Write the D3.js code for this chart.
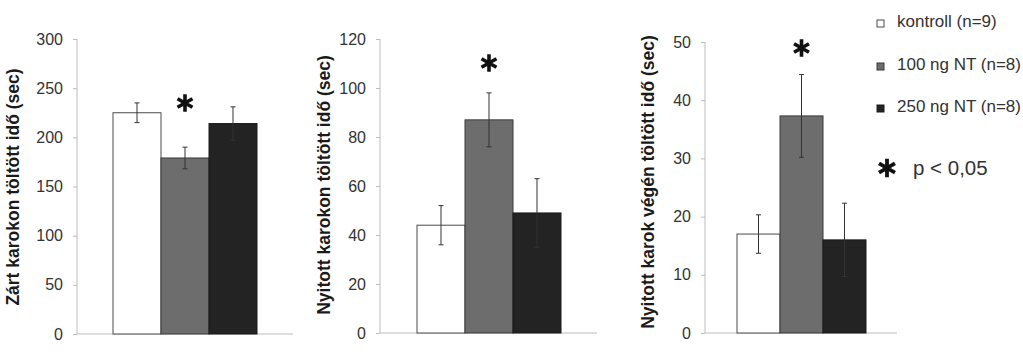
<!DOCTYPE html>
<html>
<head>
<meta charset="utf-8">
<script src="https://cdn.jsdelivr.net/npm/d3@7"></script>
<style>
  body { margin: 0; background: #fff; }
  svg { font-family: Arial, "Liberation Sans", sans-serif; }
</style>
</head>
<body>
<div id="chart"></div>
<script>
// groups (legend labels)
const groups = ["kontroll (n=9)", "100 ng NT (n=8)", "250 ng NT (n=8)"];
const fills = ["#ffffff", "#6d6d6d", "#232323"];
const strokes = ["#4a4a4a", "#3a3a3a", "#1a1a1a"];

// values (mean, SEM)
const closedMeans = [225, 179, 214];
const closedErr = [10, 11, 17];
const openMeans = [44, 87, 49];
const openErr = [8, 11, 14];
const endMeans = [17, 37.3, 16];
const endErr = [3.3, 7.1, 6.3];

const titles = [
    "Zárt karokon töltött idő (sec)",
    "Nyitott karokon töltött idő (sec)",
    "Nyitott karok végén töltött idő (sec)"
];
const yMax = [300, 120, 50];
const yStep = [50, 20, 10];
const sigGroup = 1; // group marked with *

// panel geometry (pixels)
const panels = [
    { means: closedMeans, err: closedErr, axisX: 77, top: 39, bottom: 334, xEnd: 293, bars: [113, 257], titleX: 19, titleY: 187, starY: 103 },
    { means: openMeans, err: openErr, axisX: 380, top: 39, bottom: 333, xEnd: 597, bars: [417, 561], titleX: 330, titleY: 185, starY: 63 },
    { means: endMeans, err: endErr, axisX: 705, top: 42, bottom: 333, xEnd: 897, bars: [737, 866], titleX: 654, titleY: 182, starY: 48 }
];

const svg = d3.select("#chart").append("svg")
    .attr("width", 1023)
    .attr("height", 363);

panels.forEach((p, i) => {
    const y = d3.scaleLinear().domain([0, yMax[i]]).range([p.bottom, p.top]);
    const x = d3.scaleBand().domain(groups).range(p.bars).padding(0);
    const g = svg.append("g");

    // y axis
    const axis = d3.axisLeft(y)
        .tickValues(d3.range(0, yMax[i] + 1, yStep[i]))
        .tickSize(4)
        .tickPadding(10);
    const ax = g.append("g")
        .attr("transform", `translate(${p.axisX},0)`)
        .call(axis);
    ax.select(".domain").attr("stroke", "#bdbdbd").attr("d", `M0,${p.top}V${p.bottom}`);
    ax.selectAll(".tick line").attr("stroke", "#bdbdbd");
    ax.selectAll(".tick text")
        .attr("fill", "#333")
        .style("font-size", "16px")
        .attr("font-family", null);

    // baseline
    g.append("line")
        .attr("x1", p.axisX).attr("x2", p.xEnd)
        .attr("y1", y(0)).attr("y2", y(0))
        .attr("stroke", "#bdbdbd");

    // bars
    g.selectAll(".bar")
        .data(groups)
        .enter().append("rect")
        .attr("class", "bar")
        .attr("x", d => x(d))
        .attr("y", (d, k) => y(p.means[k]))
        .attr("width", x.bandwidth())
        .attr("height", (d, k) => y(0) - y(p.means[k]))
        .attr("fill", (d, k) => fills[k])
        .attr("stroke", (d, k) => strokes[k])
        .attr("stroke-width", 1);

    // error bars
    const eb = g.selectAll(".err")
        .data(groups)
        .enter().append("g")
        .attr("class", "err")
        .attr("stroke", "#333")
        .attr("stroke-width", 1);
    eb.append("line")
        .attr("x1", d => x(d) + x.bandwidth() / 2)
        .attr("x2", d => x(d) + x.bandwidth() / 2)
        .attr("y1", (d, k) => y(p.means[k] + p.err[k]))
        .attr("y2", (d, k) => y(p.means[k] - p.err[k]));
    [1, -1].forEach(s => {
        eb.append("line")
            .attr("x1", d => x(d) + x.bandwidth() / 2 - 2.5)
            .attr("x2", d => x(d) + x.bandwidth() / 2 + 2.5)
            .attr("y1", (d, k) => y(p.means[k] + s * p.err[k]))
            .attr("y2", (d, k) => y(p.means[k] + s * p.err[k]));
    });

    // significance star
    g.append("path")
        .attr("d", d3.symbol(d3.symbolAsterisk, 210)())
        .attr("transform", `translate(${x(groups[sigGroup]) + x.bandwidth() / 2},${p.starY})`)
        .attr("fill", "none")
        .attr("stroke", "#111")
        .attr("stroke-width", 3.6);

    // y title
    g.append("text")
        .attr("transform", `translate(${p.titleX},${p.titleY}) rotate(-90)`)
        .attr("text-anchor", "middle")
        .style("font-size", "17.5px")
        .style("font-weight", "bold")
        .attr("fill", "#1a1a1a")
        .text(titles[i]);
});

// legend
const legendY = [27, 70, 112];
const legend = svg.append("g");
groups.forEach((name, k) => {
    legend.append("rect")
        .attr("x", 877).attr("y", legendY[k] - 7)
        .attr("width", 7).attr("height", 7)
        .attr("fill", fills[k])
        .attr("stroke", strokes[k]);
    legend.append("text")
        .attr("x", 897).attr("y", legendY[k])
        .attr("fill", "#333")
        .style("font-size", "17px")
        .text(name);
});
legend.append("path")
    .attr("d", d3.symbol(d3.symbolAsterisk, 240)())
    .attr("transform", "translate(887,168)")
    .attr("fill", "none")
    .attr("stroke", "#111")
    .attr("stroke-width", 3.8);
legend.append("text")
    .attr("x", 913).attr("y", 175)
    .attr("fill", "#333")
    .style("font-size", "20.5px")
    .text("p < 0,05");
</script>
</body>
</html>
